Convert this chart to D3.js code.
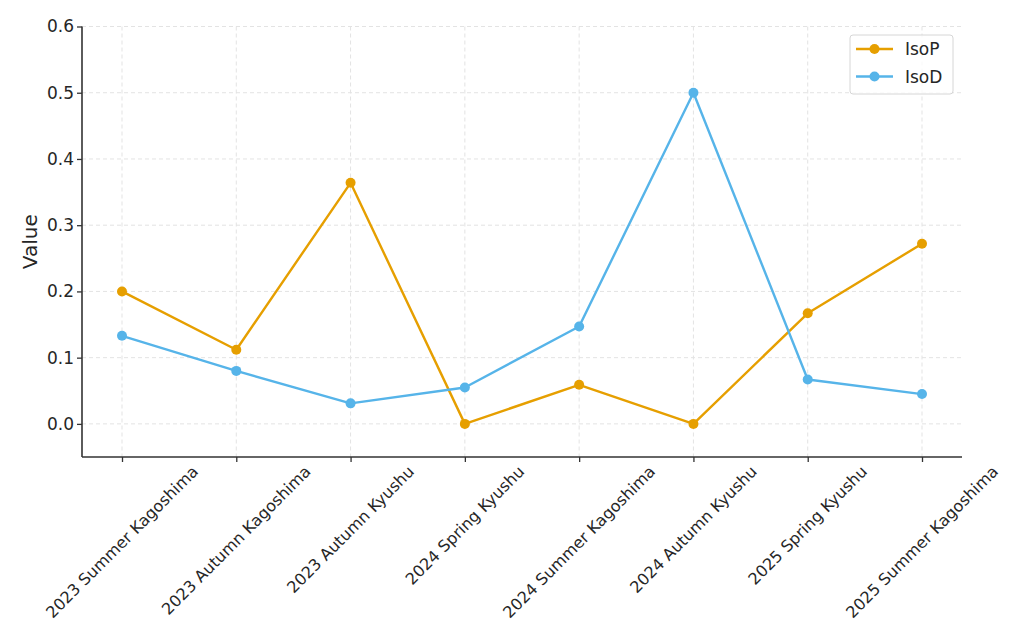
<!DOCTYPE html>
<html>
<head>
<meta charset="utf-8">
<script src="https://cdn.jsdelivr.net/npm/d3@7"></script>
<style>
  body { margin: 0; background: #fff; }
  svg text { font-family: "DejaVu Sans", sans-serif; fill: #262626; }
</style>
</head>
<body>
<div id="chart"></div>
<script>
// data
const categories = [
    "2023 Summer Kagoshima", "2023 Autumn Kagoshima", "2023 Autumn Kyushu",
    "2024 Spring Kyushu", "2024 Summer Kagoshima", "2024 Autumn Kyushu",
    "2025 Spring Kyushu", "2025 Summer Kagoshima"
];
const isoP = [0.200, 0.112, 0.364, 0.000, 0.059, 0.000, 0.167, 0.272];
const isoD = [0.133, 0.080, 0.031, 0.055, 0.147, 0.500, 0.067, 0.045];
const yTicks = [0.0, 0.1, 0.2, 0.3, 0.4, 0.5, 0.6];

const series = [
    { name: "IsoP", values: isoP, color: "#E69F00" },
    { name: "IsoD", values: isoD, color: "#56B4E9" }
];

const width = 1024, height = 640;
const plotLeft = 82, plotRight = 962, plotTop = 26.5, plotBottom = 457;

const svg = d3.select("#chart").append("svg")
    .attr("width", width)
    .attr("height", height);

const x = d3.scalePoint()
    .domain(categories)
    .range([plotLeft, plotRight])
    .padding(0.35);

const y = d3.scaleLinear()
    .domain([-0.05, 0.6])
    .range([plotBottom, plotTop]);

// grid lines
const grid = svg.append("g").attr("class", "grid");
grid.selectAll(".gy").data(yTicks).enter().append("line")
    .attr("x1", plotLeft).attr("x2", plotRight)
    .attr("y1", d => y(d)).attr("y2", d => y(d))
    .attr("stroke", "#e3e3e3").attr("stroke-width", 1)
    .attr("stroke-dasharray", "4,3");
grid.selectAll(".gx").data(categories).enter().append("line")
    .attr("x1", d => x(d)).attr("x2", d => x(d))
    .attr("y1", plotTop).attr("y2", plotBottom)
    .attr("stroke", "#e3e3e3").attr("stroke-width", 1)
    .attr("stroke-dasharray", "4,3");

// y axis
const yAxis = svg.append("g")
    .attr("transform", `translate(${plotLeft},0)`)
    .call(d3.axisLeft(y).tickValues(yTicks).tickFormat(d3.format(".1f")).tickSize(5).tickPadding(3));
yAxis.select(".domain").attr("stroke", "#333").attr("stroke-width", 1.6)
    .attr("d", `M0,${plotTop}V${plotBottom}`);
yAxis.selectAll(".tick line").attr("stroke", "#333").attr("stroke-width", 1.3);
yAxis.selectAll(".tick text").style("font-size", "17px").attr("fill", "#262626")
    .style("font-family", "DejaVu Sans");

// x axis
const xAxis = svg.append("g")
    .attr("transform", `translate(0,${plotBottom})`)
    .call(d3.axisBottom(x).tickSize(5).tickFormat(""));
xAxis.select(".domain").attr("stroke", "#333").attr("stroke-width", 1.6)
    .attr("d", `M${plotLeft},0H${plotRight}`);
xAxis.selectAll(".tick line").attr("stroke", "#333").attr("stroke-width", 1.3);

// rotated x labels, centred on tick like matplotlib ha='center'
const fs = 16;
const xLabels = svg.append("g");
categories.forEach(c => {
    const t = xLabels.append("text")
        .text(c)
        .style("font-size", fs + "px")
        .attr("text-anchor", "middle")
        .attr("dominant-baseline", "central");
    const len = t.node().getComputedTextLength();
    const half = (len + fs) * Math.SQRT1_2 / 2;
    const cx = x(c), cy = plotBottom + 6 + half;
    t.attr("transform", `translate(${cx},${cy}) rotate(-45)`);
});

// y label
svg.append("text")
    .attr("transform", `translate(30,${(plotTop + plotBottom) / 2}) rotate(-90)`)
    .attr("text-anchor", "middle")
    .attr("dominant-baseline", "central")
    .style("font-size", "20px")
    .text("Value");

// lines + markers
const line = d3.line()
    .x((d, i) => x(categories[i]))
    .y(d => y(d));

series.forEach(s => {
    svg.append("path")
        .datum(s.values)
        .attr("fill", "none")
        .attr("stroke", s.color)
        .attr("stroke-width", 2.4)
        .attr("stroke-linejoin", "round")
        .attr("d", line);
    svg.selectAll(null).data(s.values).enter().append("circle")
        .attr("cx", (d, i) => x(categories[i]))
        .attr("cy", d => y(d))
        .attr("r", 5)
        .attr("fill", s.color);
});

// legend
const legend = svg.append("g").attr("transform", "translate(850,35)");
legend.append("rect")
    .attr("width", 103).attr("height", 59)
    .attr("rx", 3)
    .attr("fill", "#fff").attr("fill-opacity", 0.8)
    .attr("stroke", "#d6d6d6").attr("stroke-width", 1);
series.forEach((s, i) => {
    const ly = 14 + i * 27.5;
    legend.append("line")
        .attr("x1", 6).attr("x2", 43).attr("y1", ly).attr("y2", ly)
        .attr("stroke", s.color).attr("stroke-width", 2.4);
    legend.append("circle")
        .attr("cx", 24.5).attr("cy", ly).attr("r", 5).attr("fill", s.color);
    legend.append("text")
        .attr("x", 55).attr("y", ly)
        .attr("dominant-baseline", "central")
        .style("font-size", "17px")
        .attr("fill", "#333")
        .text(s.name);
});
</script>
</body>
</html>
